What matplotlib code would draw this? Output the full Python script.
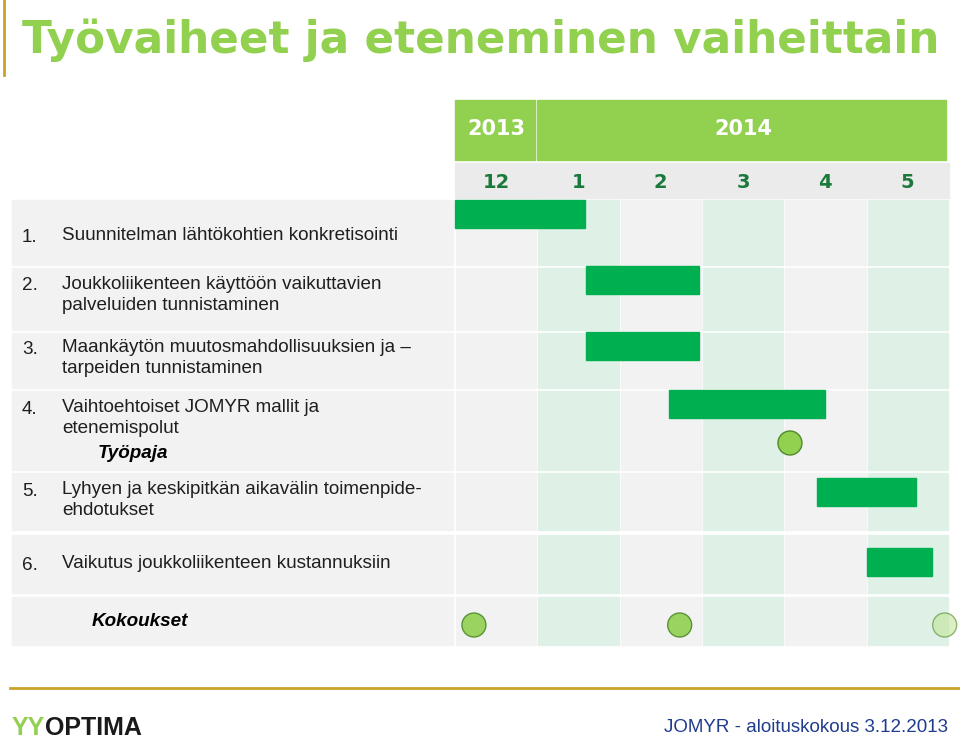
import matplotlib.pyplot as plt
from matplotlib.patches import Rectangle, Circle

title = "Työvaiheet ja eteneminen vaiheittain"
months = ["12", "1", "2", "3", "4", "5"]
numbers = ["1.", "2.", "3.", "4.", "5.", "6."]
tasks = ["Suunnitelman lähtökohtien konkretisointi",
         "Joukkoliikenteen käyttöön vaikuttavien\npalveluiden tunnistaminen",
         "Maankäytön muutosmahdollisuuksien ja –\ntarpeiden tunnistaminen",
         "Vaihtoehtoiset JOMYR mallit ja\netenemispolut",
         "Lyhyen ja keskipitkän aikavälin toimenpide-\nehdotukset",
         "Vaikutus joukkoliikenteen kustannuksiin"]
# bar start / end in months from start of Dec 2013
bar_start = [0.0, 1.59, 1.59, 2.6, 4.4, 5.0]
bar_end = [1.58, 2.97, 2.97, 4.5, 5.6, 5.8]
workshop_month = 4.07
meeting_months = [0.23, 2.73, 5.95]

GREEN = "#00b050"
LIGHT = "#92d050"
SANS = "Liberation Sans"

fig = plt.figure(figsize=(9.6, 7.41), dpi=100)
ax = fig.add_axes([0, 0, 1, 1])
ax.set_xlim(0, 960)
ax.set_ylim(741, 0)
ax.axis("off")

x0, cw = 455, 82.3
col_x = lambda m: x0 + m * cw

ax.text(22, 40, title, color=LIGHT, fontsize=31.5, fontweight="bold", va="center")
ax.plot([4, 4], [0, 75], color="#c9a227", lw=2)
ax.plot([10, 960], [688, 688], color="#c9a227", lw=2)

# header
ax.add_patch(Rectangle((x0, 100), cw - 2, 60, color=LIGHT))
ax.add_patch(Rectangle((x0 + cw, 100), 5 * cw - 3, 60, color=LIGHT))
ax.text(x0 + cw / 2, 129, "2013", color="white", fontsize=15, fontweight="bold", ha="center", va="center")
ax.text(x0 + 3.5 * cw, 129, "2014", color="white", fontsize=15, fontweight="bold", ha="center", va="center")
ax.add_patch(Rectangle((x0, 163), 6 * cw, 35, color="#ebebeb"))
for i, m in enumerate(months):
    ax.text(col_x(i + 0.5), 182, m, color="#1a7a3c", fontsize=14, fontweight="bold", ha="center", va="center")

rows = [(200, 265), (268, 330), (333, 388), (391, 470), (473, 530), (535, 593), (597, 645)]
for (a, b) in rows:
    ax.add_patch(Rectangle((12, a), x0 - 14, b - a, color="#f2f2f2"))
    for i in range(6):
        c = "#dff0e6" if i % 2 else "#f2f2f2"
        ax.add_patch(Rectangle((col_x(i) + 1, a), cw - 2, b - a, color=c))

text_y = [237, 286, 349, 409, 491, 565]
for n, t, y in zip(numbers, tasks, text_y):
    ax.text(22, y, n, fontsize=13.6, color="#1f1f1f", va="center", family=SANS)
    ax.text(62, y - 10, t, fontsize=13.6, color="#1f1f1f", va="top", family=SANS, linespacing=1.3)
ax.text(98, 454, "Työpaja", fontsize=13.6, fontstyle="italic", fontweight="bold", va="center", family=SANS)
ax.text(92, 621, "Kokoukset", fontsize=13.6, fontstyle="italic", fontweight="bold", va="center", family=SANS)

bar_y = [200, 266, 332, 390, 478, 548]
for s, e, y in zip(bar_start, bar_end, bar_y):
    ax.add_patch(Rectangle((col_x(s), y), (e - s) * cw, 28, color=GREEN))

ax.add_patch(Circle((col_x(workshop_month), 443), 12, fc=LIGHT, ec="#4f8a2a", lw=1))
for j, m in enumerate(meeting_months):
    fc = "#c4e59a" if j == 2 else LIGHT
    ax.add_patch(Circle((col_x(m), 625), 12, fc=fc, ec="#4f8a2a", lw=1, alpha=0.9 if j < 2 else 0.6))

ax.text(12, 728, "YY", color=LIGHT, fontsize=18, fontweight="bold", va="center", family=SANS)
ax.text(45, 728, "OPTIMA", color="#1a1a1a", fontsize=18, fontweight="bold", va="center", family=SANS)
ax.text(948, 728, "JOMYR - aloituskokous 3.12.2013", color="#1f3b8c", fontsize=13.5, ha="right", va="center",
        family=SANS)

fig.savefig("out.png", dpi=100)
